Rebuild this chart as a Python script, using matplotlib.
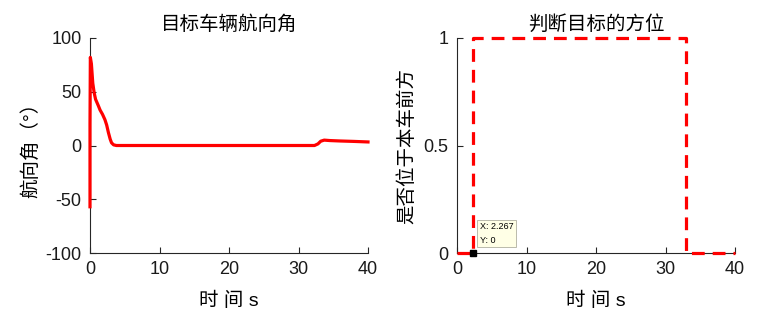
import matplotlib
matplotlib.use('Agg')
from matplotlib import pyplot as plt

plt.rcParams['font.family'] = ['Liberation Sans', 'Noto Sans CJK SC', 'DejaVu Sans']
plt.rcParams['axes.unicode_minus'] = False

# heading angle of the target vehicle
t_heading = [0, 0.0, 0.05, 0.2, 0.4, 0.6, 0.8, 1.0, 1.2, 1.45, 1.8, 2.15, 2.4, 2.65, 2.9,
             3.1, 3.4, 3.8, 4.5, 10, 20, 30,
             32.3, 32.8, 33.2, 33.7, 34.5, 36, 38, 40]
heading = [-57, 20, 82, 76, 58, 49, 43, 40, 37, 33, 29, 24, 19, 12, 6,
           2.5, 0.6, 0, 0, 0, 0, 0,
           0, 1.5, 4, 5, 4.6, 4.2, 3.8, 3.3]

# target in front of own vehicle (0/1)
t_front = [0, 2.267, 2.267, 33.0, 33.0, 40]
front = [0, 0, 1, 1, 0, 0]

tip_x = 2.267
tip_y = 0

fig = plt.figure(figsize=(7.6, 3.19), dpi=100)

ax1 = fig.add_axes([90 / 760, 1 - 253 / 319, 278 / 760, 215 / 319])
ax1.plot(t_heading, heading, color='red', linewidth=2.3, clip_on=False, zorder=4)
ax1.set_xlim(0, 40)
ax1.set_ylim(-100, 100)
ax1.set_xticks([0, 10, 20, 30, 40])
ax1.set_yticks([-100, -50, 0, 50, 100])
ax1.set_title('目标车辆航向角', fontsize=14, pad=6)
ax1.set_xlabel('时 间 s', fontsize=14)
ax1.set_ylabel('航向角（°）', fontsize=14)
ax1.yaxis.set_label_coords(-0.18, 0.5)

ax2 = fig.add_axes([457 / 760, 1 - 253 / 319, 278 / 760, 215 / 319])
ax2.plot(t_front, front, color='red', linewidth=2.3, linestyle=(0, (4, 2.5)),
         clip_on=False, zorder=4)
ax2.set_xlim(0, 40)
ax2.set_ylim(0, 1)
ax2.set_xticks([0, 10, 20, 30, 40])
ax2.set_yticks([0, 0.5, 1])
ax2.set_yticklabels(['0', '0.5', '1'])
ax2.set_title('判断目标的方位', fontsize=14, pad=6)
ax2.set_xlabel('时 间 s', fontsize=14)
ax2.set_ylabel('是否位于本车前方', fontsize=14)
ax2.yaxis.set_label_coords(-0.145, 0.5)

# data tip
ax2.plot([tip_x], [tip_y], marker='s', color='black', markersize=5, clip_on=False, zorder=5)
ax2.annotate(f'X: {tip_x}\nY: {tip_y}', xy=(tip_x, tip_y), xytext=(5, 6),
             textcoords='offset points', fontsize=6.5, va='bottom', ha='left',
             linespacing=1.6,
             bbox=dict(boxstyle='square,pad=0.3', fc='#ffffe6', ec='#b0b0a0', lw=0.6),
             zorder=6)

for ax in (ax1, ax2):
    ax.spines['top'].set_visible(False)
    ax.spines['right'].set_visible(False)
    ax.spines['left'].set_color('#262626')
    ax.spines['bottom'].set_color('#262626')
    ax.tick_params(direction='in', length=4, labelsize=13, colors='#262626',
                   labelcolor='#1a1a1a', pad=6)
    ax.xaxis.set_label_coords(0.5, -0.18)

fig.savefig('out.png', dpi=100)
